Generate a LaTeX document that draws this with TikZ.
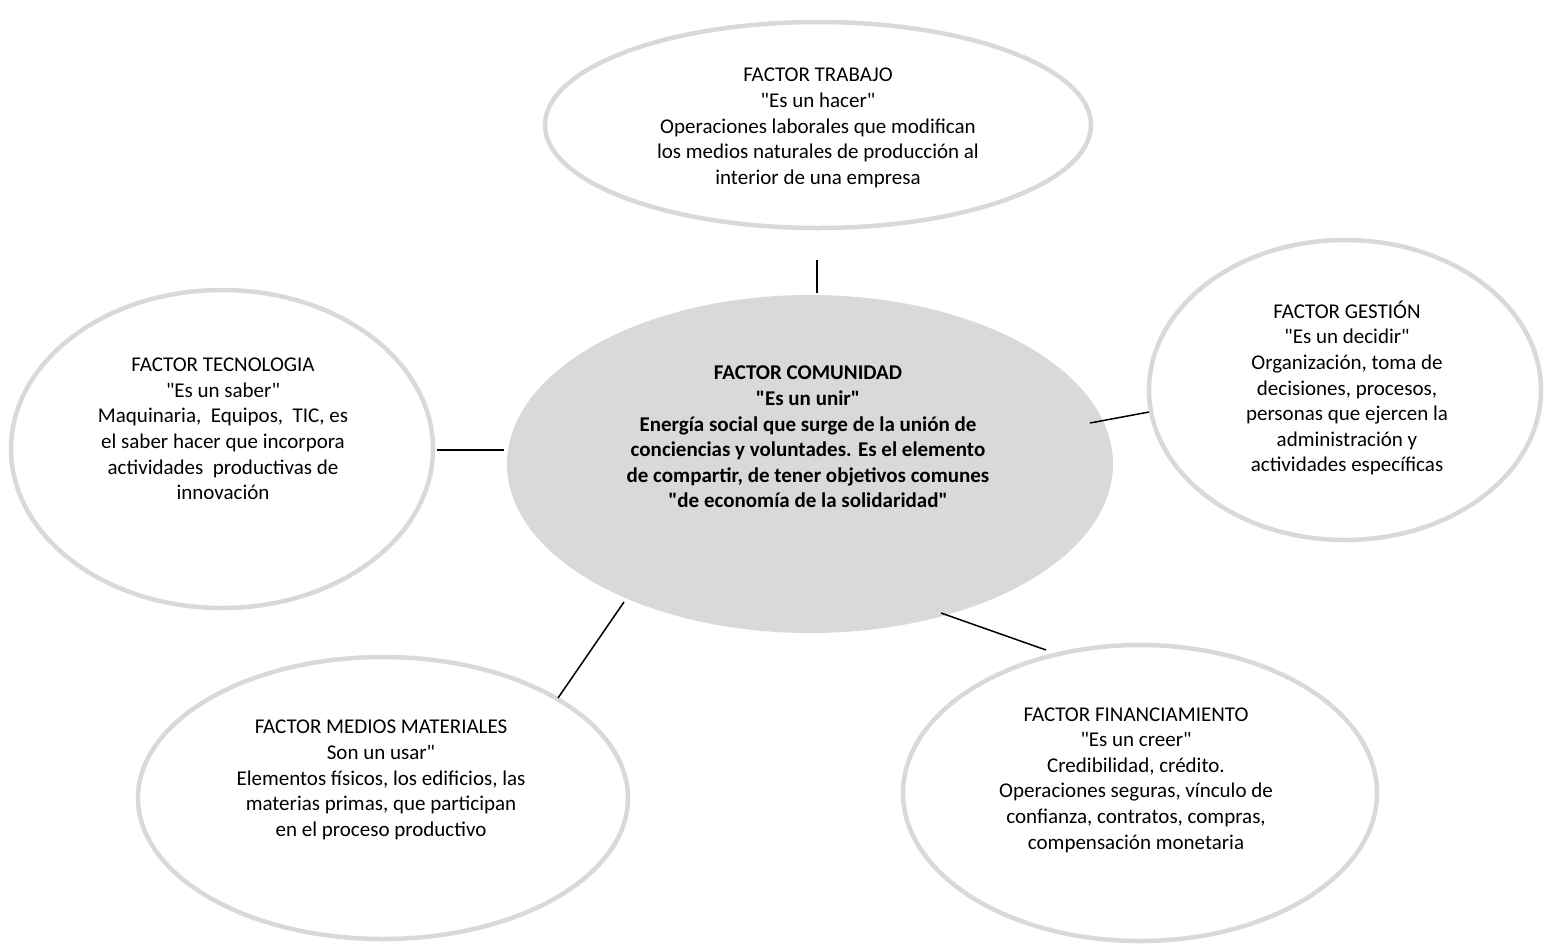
\documentclass[tikz,border=0pt]{standalone}
\usepackage{fontspec}
\setmainfont{Carlito}[Ligatures=TeXOff]
\usetikzlibrary{shapes.geometric}
\definecolor{ringgray}{HTML}{D9D9D9}
\definecolor{fillgray}{HTML}{D9D9D9}
\tikzset{
  ring/.style={ellipse, draw=ringgray, line width=4.5pt, fill=white, inner sep=0pt},
  hub/.style={ellipse, draw=none, fill=fillgray, inner sep=0pt},
  label/.style={align=center, inner sep=0pt, font=\fontsize{21}{25.6}\selectfont, text=black},
  hublabel/.style={label, font=\fontsize{21}{25.6}\selectfont\bfseries},
  link/.style={draw=black, line width=1.5pt}
}
\begin{document}
\begin{tikzpicture}[x=1pt,y=-1pt]
\useasboundingbox (0,0) rectangle (1546,943);
% ellipses
\node[ring, minimum width=546pt, minimum height=206pt] (trabajoE) at (818,125) {};
\node[hub, minimum width=606pt, minimum height=338pt] (comunidadE) at (810,464) {};
\node[ring, minimum width=422pt, minimum height=318pt] (tecnoE) at (222,449) {};
\node[ring, minimum width=392pt, minimum height=300pt] (gestionE) at (1345,390) {};
\node[ring, minimum width=490pt, minimum height=282pt] (mediosE) at (383,798) {};
\node[ring, minimum width=474pt, minimum height=296pt] (finanE) at (1140,793) {};
% texts
\node[label] (trabajo) at (818,128) {FACTOR TRABAJO\\"Es un hacer"\\Operaciones laborales que modifican\\los medios naturales de producción al\\interior de una empresa};
\node[hublabel] (comunidad) at (808,437) {FACTOR COMUNIDAD\\"Es un unir"\\Energía social que surge de la unión de\\conciencias y voluntades. Es el elemento\\de compartir, de tener objetivos comunes\\"de economía de la solidaridad"};
\node[label] (tecno) at (223,429) {FACTOR TECNOLOGIA\\"Es un saber"\\Maquinaria,\ \ Equipos,\ \ TIC, es\\el saber hacer que incorpora\\actividades\ \ productivas de\\innovación};
\node[label] (gestion) at (1347,388) {FACTOR GESTIÓN\\"Es un decidir"\\Organización, toma de\\decisiones, procesos,\\personas que ejercen la\\administración y\\actividades específicas};
\node[label] (medios) at (381,780) {FACTOR MEDIOS MATERIALES\\Son un usar"\\Elementos físicos, los edificios, las\\materias primas, que participan\\en el proceso productivo};
\node[label] (finan) at (1136,780) {FACTOR FINANCIAMIENTO\\"Es un creer"\\Credibilidad, crédito.\\Operaciones seguras, vínculo de\\confianza, contratos, compras,\\compensación monetaria};
% connector end points
\coordinate (t1) at (817,260); \coordinate (t2) at (817,293);
\coordinate (l1) at (437,450); \coordinate (l2) at (504,450);
\coordinate (r1) at (1090,423); \coordinate (r2) at (1149,412);
\coordinate (bl1) at (624,602); \coordinate (bl2) at (558,698);
\coordinate (br1) at (941,613); \coordinate (br2) at (1046,650);
\draw[link] (t1) -- (t2);
\draw[link] (l1) -- (l2);
\draw[link] (r1) -- (r2);
\draw[link] (bl1) -- (bl2);
\draw[link] (br1) -- (br2);
\end{tikzpicture}
\end{document}
